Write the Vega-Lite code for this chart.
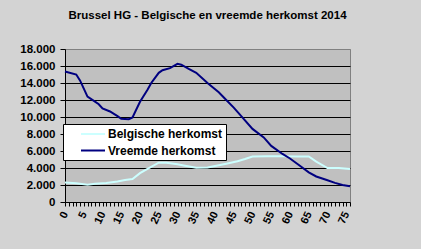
{
  "$schema": "https://vega.github.io/schema/vega-lite/v6.json",
  "width": 285,
  "height": 153,
  "autosize": {"type": "none"},
  "padding": {"left": 65, "top": 49, "right": 71, "bottom": 47},
  "background": "#d3d3d3",
  "title": {
    "text": "Brussel HG - Belgische en vreemde herkomst 2014",
    "font": "Liberation Sans",
    "fontSize": 11.5,
    "fontWeight": "bold",
    "color": "black",
    "anchor": "middle",
    "offset": 22
  },
  "config": {
    "locale": {"number": {"decimal": ",", "thousands": ".", "grouping": [3], "currency": ["", " €"]}},
    "view": {"fill": "#c0c0c0", "stroke": "#808080", "strokeWidth": 1}
  },
  "data": {
    "values": [
      {"age": 0, "serie": "Belgische herkomst", "n": 2300},
      {"age": 3, "serie": "Belgische herkomst", "n": 2200},
      {"age": 6, "serie": "Belgische herkomst", "n": 2040},
      {"age": 8, "serie": "Belgische herkomst", "n": 2150},
      {"age": 11, "serie": "Belgische herkomst", "n": 2230},
      {"age": 14, "serie": "Belgische herkomst", "n": 2400},
      {"age": 16, "serie": "Belgische herkomst", "n": 2590},
      {"age": 18, "serie": "Belgische herkomst", "n": 2700},
      {"age": 20, "serie": "Belgische herkomst", "n": 3400},
      {"age": 22, "serie": "Belgische herkomst", "n": 3900},
      {"age": 25, "serie": "Belgische herkomst", "n": 4620},
      {"age": 27, "serie": "Belgische herkomst", "n": 4630},
      {"age": 30, "serie": "Belgische herkomst", "n": 4450},
      {"age": 32, "serie": "Belgische herkomst", "n": 4270},
      {"age": 35, "serie": "Belgische herkomst", "n": 4020},
      {"age": 38, "serie": "Belgische herkomst", "n": 4050},
      {"age": 40, "serie": "Belgische herkomst", "n": 4230},
      {"age": 43, "serie": "Belgische herkomst", "n": 4500},
      {"age": 46, "serie": "Belgische herkomst", "n": 4800},
      {"age": 48, "serie": "Belgische herkomst", "n": 5060},
      {"age": 50, "serie": "Belgische herkomst", "n": 5350},
      {"age": 54, "serie": "Belgische herkomst", "n": 5370},
      {"age": 58, "serie": "Belgische herkomst", "n": 5370},
      {"age": 62, "serie": "Belgische herkomst", "n": 5360},
      {"age": 65, "serie": "Belgische herkomst", "n": 5350},
      {"age": 67, "serie": "Belgische herkomst", "n": 4750},
      {"age": 70, "serie": "Belgische herkomst", "n": 4000},
      {"age": 73, "serie": "Belgische herkomst", "n": 4000},
      {"age": 76, "serie": "Belgische herkomst", "n": 3870},
      {"age": 0, "serie": "Vreemde herkomst", "n": 15350},
      {"age": 3, "serie": "Vreemde herkomst", "n": 15000},
      {"age": 4, "serie": "Vreemde herkomst", "n": 14300},
      {"age": 6, "serie": "Vreemde herkomst", "n": 12400},
      {"age": 8, "serie": "Vreemde herkomst", "n": 11800},
      {"age": 9, "serie": "Vreemde herkomst", "n": 11500},
      {"age": 10, "serie": "Vreemde herkomst", "n": 11000},
      {"age": 12, "serie": "Vreemde herkomst", "n": 10650},
      {"age": 14, "serie": "Vreemde herkomst", "n": 10100},
      {"age": 15, "serie": "Vreemde herkomst", "n": 9780},
      {"age": 17, "serie": "Vreemde herkomst", "n": 9750},
      {"age": 18, "serie": "Vreemde herkomst", "n": 9950},
      {"age": 20, "serie": "Vreemde herkomst", "n": 11800},
      {"age": 22, "serie": "Vreemde herkomst", "n": 13200},
      {"age": 23, "serie": "Vreemde herkomst", "n": 14000},
      {"age": 25, "serie": "Vreemde herkomst", "n": 15200},
      {"age": 26, "serie": "Vreemde herkomst", "n": 15500},
      {"age": 28, "serie": "Vreemde herkomst", "n": 15750},
      {"age": 30, "serie": "Vreemde herkomst", "n": 16250},
      {"age": 31, "serie": "Vreemde herkomst", "n": 16150},
      {"age": 33, "serie": "Vreemde herkomst", "n": 15650},
      {"age": 35, "serie": "Vreemde herkomst", "n": 15200},
      {"age": 38, "serie": "Vreemde herkomst", "n": 14000},
      {"age": 41, "serie": "Vreemde herkomst", "n": 12900},
      {"age": 43, "serie": "Vreemde herkomst", "n": 12000},
      {"age": 45, "serie": "Vreemde herkomst", "n": 11100},
      {"age": 47, "serie": "Vreemde herkomst", "n": 10100},
      {"age": 50, "serie": "Vreemde herkomst", "n": 8600},
      {"age": 53, "serie": "Vreemde herkomst", "n": 7600},
      {"age": 55, "serie": "Vreemde herkomst", "n": 6600},
      {"age": 58, "serie": "Vreemde herkomst", "n": 5650},
      {"age": 60, "serie": "Vreemde herkomst", "n": 5120},
      {"age": 63, "serie": "Vreemde herkomst", "n": 4150},
      {"age": 65, "serie": "Vreemde herkomst", "n": 3480},
      {"age": 67, "serie": "Vreemde herkomst", "n": 3000},
      {"age": 70, "serie": "Vreemde herkomst", "n": 2560},
      {"age": 72, "serie": "Vreemde herkomst", "n": 2250},
      {"age": 74, "serie": "Vreemde herkomst", "n": 2000},
      {"age": 76, "serie": "Vreemde herkomst", "n": 1850}
    ]
  },
  "mark": {"type": "line", "strokeWidth": 2, "interpolate": "linear"},
  "encoding": {
    "x": {
      "field": "age",
      "type": "quantitative",
      "scale": {"domain": [0, 76], "nice": false, "zero": false},
      "axis": {
        "title": null,
        "grid": false,
        "values": [0,1,2,3,4,5,6,7,8,9,10,11,12,13,14,15,16,17,18,19,20,21,22,23,24,25,26,27,28,29,30,31,32,33,34,35,36,37,38,39,40,41,42,43,44,45,46,47,48,49,50,51,52,53,54,55,56,57,58,59,60,61,62,63,64,65,66,67,68,69,70,71,72,73,74,75,76],
        "labelExpr": "datum.value % 5 === 0 ? datum.label : ''",
        "labelAngle": -65,
        "labelAlign": "right",
        "labelBaseline": "middle",
        "labelFont": "Liberation Sans",
        "labelFontSize": 11,
        "labelFontWeight": "bold",
        "labelColor": "black",
        "labelPadding": 6,
        "labelFlush": false,
        "labelOverlap": false,
        "domainColor": "black",
        "tickColor": "black",
        "tickSize": 4,
        "format": "d"
      }
    },
    "y": {
      "field": "n",
      "type": "quantitative",
      "scale": {"domain": [0, 18000], "nice": false},
      "axis": {
        "title": null,
        "values": [0, 2000, 4000, 6000, 8000, 10000, 12000, 14000, 16000, 18000],
        "format": ",d",
        "grid": true,
        "gridColor": {"condition": {"test": "datum.value === 18000 || datum.value === 0", "value": "#808080"}, "value": "black"},
        "gridOpacity": 1,
        "gridWidth": 1,
        "labelFont": "Liberation Sans",
        "labelFontSize": 11.5,
        "labelFontWeight": "bold",
        "labelColor": "black",
        "labelPadding": 5,
        "labelFlush": false,
        "domainColor": "black",
        "tickColor": "black",
        "tickSize": 5
      }
    },
    "color": {
      "field": "serie",
      "type": "nominal",
      "scale": {"domain": ["Belgische herkomst", "Vreemde herkomst"], "range": ["#ccffff", "#000080"]},
      "legend": {
        "title": null,
        "orient": "none",
        "legendX": -2,
        "legendY": 75,
        "fillColor": "white",
        "strokeColor": "black",
        "padding": 3,
        "symbolType": "M-2,0H2",
        "symbolSize": 144,
        "symbolStrokeWidth": 2,
        "symbolOffset": 20,
        "labelOffset": 8,
        "rowPadding": 3.5,
        "labelFont": "Liberation Sans",
        "labelFontSize": 12,
        "labelFontWeight": "bold",
        "labelColor": "black"
      }
    }
  }
}
